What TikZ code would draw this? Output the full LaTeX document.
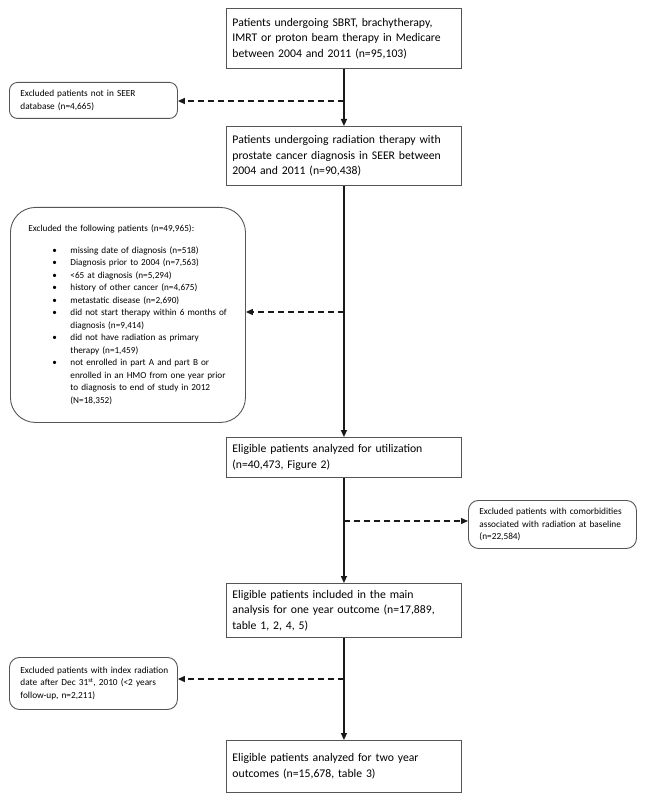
\documentclass[tikz,border=0pt]{standalone}
\usepackage{fontspec}
\setmainfont{Carlito}
\usetikzlibrary{arrows.meta}
\definecolor{boxgray}{RGB}{85,85,85}
\definecolor{linecol}{RGB}{25,25,25}
\newcommand{\itm}[1]{\par\hangindent=53pt\hangafter=1\noindent\hspace*{35pt}\makebox[18pt][l]{\textbullet}#1}
\newcommand{\brk}{\hfil\break}
\begin{document}
\begin{tikzpicture}[x=1pt,y=-1pt,
  mainbox/.style={draw=boxgray, line width=0.9pt, rectangle, anchor=north west,
    minimum width=235pt, text width=223pt, inner xsep=6pt, inner ysep=0pt,
    align=left, font=\fontsize{11.7}{15.5}\selectfont},
  sidebox/.style={draw=boxgray, line width=0.9pt, rounded corners=8pt, anchor=north west,
    inner xsep=8pt, inner ysep=0pt, align=left, text width=152pt,
    font=\fontsize{9.3}{12.8}\selectfont},
  trunk/.style={draw=linecol, line width=1.3pt, -{Triangle[length=7pt,width=6pt]}},
  dasharrow/.style={draw=linecol, line width=1.3pt, dash pattern=on 6pt off 4pt,
    -{Triangle[length=7pt,width=6pt]}}
]
\useasboundingbox (0,0) rectangle (645,802);

% main boxes
\node[mainbox, minimum height=60pt] (b1) at (226,8)
  {\mbox{Patients undergoing SBRT, brachytherapy,}\\\mbox{IMRT or proton beam therapy in Medicare}\\\mbox{between 2004 and 2011 (n=95,103)}};
\node[mainbox, minimum height=59pt] (b2) at (226,126)
  {\mbox{Patients undergoing radiation therapy with}\\\mbox{prostate cancer diagnosis in SEER between}\\\mbox{2004 and 2011 (n=90,438)}};
\node[mainbox, minimum height=40pt] (b3) at (226,437)
  {\mbox{Eligible patients analyzed for utilization}\\\mbox{(n=40,473, Figure 2)}};
\node[mainbox, minimum height=54pt] (b4) at (226,583)
  {\mbox{Eligible patients included in the main}\\\mbox{analysis for one year outcome (n=17,889,}\\\mbox{table 1, 2, 4, 5)}};
\node[mainbox, minimum height=52pt] (b5) at (226,740)
  {\mbox{Eligible patients analyzed for two year}\\\mbox{outcomes (n=15,678, table 3)}};

% side boxes
\node[sidebox, minimum width=168pt, minimum height=36pt] (e1) at (9,82)
  {\hspace*{3pt}\mbox{Excluded patients not in SEER}\\\hspace*{3pt}\mbox{database (n=4,665)}};
\node[sidebox, rounded corners=25pt, minimum width=235pt, minimum height=215pt,
      text width=221pt, inner xsep=7pt, font=\fontsize{9.2}{12.5}\selectfont] (e2) at (10,207)
  {\noindent\hspace*{11pt}\mbox{Excluded the following patients (n=49,965):}\par\vspace{9pt}
   \itm{\mbox{missing date of diagnosis (n=518)}}
   \itm{\mbox{Diagnosis prior to 2004 (n=7,563)}}
   \itm{\mbox{<65 at diagnosis (n=5,294)}}
   \itm{\mbox{history of other cancer (n=4,675)}}
   \itm{\mbox{metastatic disease (n=2,690)}}
   \itm{\mbox{did not start therapy within 6 months of}\brk\mbox{diagnosis (n=9,414)}}
   \itm{\mbox{did not have radiation as primary}\brk\mbox{therapy (n=1,459)}}
   \itm{\mbox{not enrolled in part A and part B or}\brk\mbox{enrolled in an HMO from one year prior}\brk\mbox{to diagnosis to end of study in 2012}\brk\mbox{(N=18,352)}}\par};
\node[sidebox, rounded corners=10pt, minimum width=168pt, minimum height=48pt] (e3) at (468,500)
  {\hspace*{3pt}\mbox{Excluded patients with comorbidities}\\\hspace*{3pt}\mbox{associated with radiation at baseline}\\\hspace*{3pt}\mbox{(n=22,584)}};
\node[sidebox, rounded corners=10pt, minimum width=168pt, minimum height=52pt] (e4) at (9,657)
  {\hspace*{3pt}\mbox{Excluded patients with index radiation}\\\hspace*{3pt}\mbox{date after Dec 31\textsuperscript{st}, 2010 (<2 years}\\\hspace*{3pt}\mbox{follow-up, n=2,211)}};

% trunk
\draw[trunk] (b1) -- (b2);
\draw[trunk] (b2) -- (b3);
\draw[trunk] (b3) -- (b4);
\draw[trunk] (b4) -- (b5);

% junctions
\coordinate (j1) at (343.5,101);
\coordinate (j2) at (343.5,312);
\coordinate (j3) at (343.5,521);
\coordinate (j4) at (343.5,679);

\draw[dasharrow] (j1) -- (j1 -| e1.east);
\draw[dasharrow] (j2) -- (j2 -| e2.east);
\draw[dasharrow] (j3) -- (j3 -| e3.west);
\draw[dasharrow] (j4) -- (j4 -| e4.east);
\end{tikzpicture}
\end{document}
